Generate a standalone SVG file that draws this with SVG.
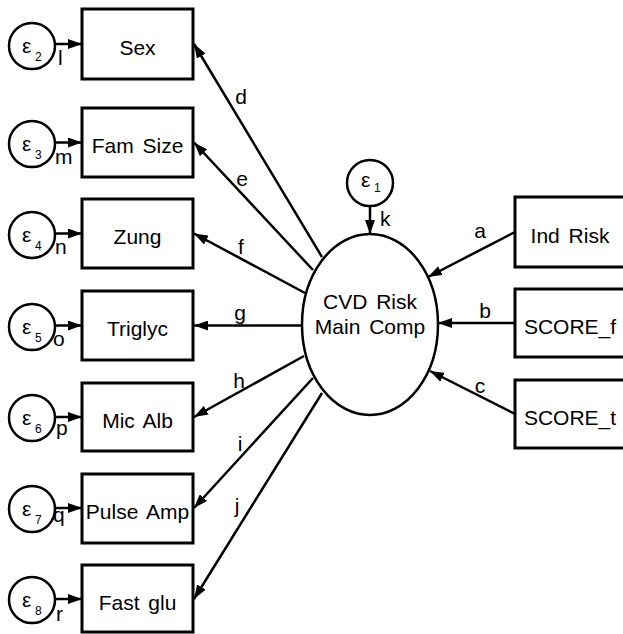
<svg xmlns="http://www.w3.org/2000/svg" width="623" height="634" viewBox="0 0 623 634">
<defs>
<marker id="ah" markerUnits="userSpaceOnUse" markerWidth="14" markerHeight="10" refX="14" refY="5" orient="auto">
<path d="M0,0 L14,5 L0,10 z" fill="#000"/>
</marker>
<style>
.box{fill:#fff;stroke:#000;stroke-width:3}
.circ{fill:#fff;stroke:#000;stroke-width:2.5}
.edge{stroke:#000;stroke-width:2.5;fill:none;marker-end:url(#ah)}
.t{font-family:"Liberation Sans",Arial,sans-serif;font-size:21px;fill:#000;word-spacing:3px}
.c{text-anchor:middle}
.lab{font-family:"Liberation Sans",Arial,sans-serif;font-size:21px;fill:#000}
.eps{font-family:"Liberation Sans",Arial,sans-serif;font-size:21px;fill:#000}
.sub{font-family:"Liberation Sans",Arial,sans-serif;font-size:12px;fill:#000}
</style>
</defs>
<rect width="623" height="634" fill="#fff"/>
<g id="connectors">
<line class="edge" x1="370" y1="206" x2="370" y2="234"/>
<line class="edge" x1="55" y1="44" x2="82" y2="44"/>
<line class="edge" x1="55" y1="142.5" x2="82" y2="142.5"/>
<line class="edge" x1="55" y1="233.5" x2="82" y2="233.5"/>
<line class="edge" x1="55" y1="325.5" x2="82" y2="325.5"/>
<line class="edge" x1="55" y1="417" x2="82" y2="417"/>
<line class="edge" x1="55" y1="508" x2="82" y2="508"/>
<line class="edge" x1="55" y1="599" x2="82" y2="599"/>
<line class="edge" x1="322" y1="257" x2="194" y2="44"/>
<line class="edge" x1="313" y1="270" x2="194" y2="142.5"/>
<line class="edge" x1="305" y1="293" x2="194" y2="233.5"/>
<line class="edge" x1="301" y1="325.5" x2="194" y2="325.5"/>
<line class="edge" x1="304" y1="356" x2="194" y2="417"/>
<line class="edge" x1="313" y1="378" x2="194" y2="508"/>
<line class="edge" x1="322" y1="393" x2="194" y2="599"/>
<line class="edge" x1="515" y1="232" x2="428" y2="277"/>
<line class="edge" x1="515" y1="323" x2="438" y2="323"/>
<line class="edge" x1="515" y1="414" x2="430" y2="371"/>
<text class="lab c" x="241" y="104">d</text>
<text class="lab c" x="242" y="186">e</text>
<text class="lab c" x="241" y="254">f</text>
<text class="lab c" x="240" y="320">g</text>
<text class="lab c" x="239" y="388">h</text>
<text class="lab c" x="240" y="451">i</text>
<text class="lab c" x="237" y="513">j</text>
<text class="lab c" x="480" y="238">a</text>
<text class="lab c" x="485" y="318">b</text>
<text class="lab c" x="480" y="393">c</text>
<text class="lab" x="380" y="226">k</text>
<text class="lab" x="58" y="65">l</text>
<text class="lab" x="55" y="164">m</text>
<text class="lab" x="55" y="254">n</text>
<text class="lab" x="53" y="346">o</text>
<text class="lab" x="56" y="435">p</text>
<text class="lab" x="53" y="522">q</text>
<text class="lab" x="56" y="621">r</text>
</g>
<g id="latent">
<ellipse class="circ" cx="370" cy="324.5" rx="68" ry="90.5"/>
<text class="t c" x="370" y="309">CVD Risk</text>
<text class="t c" x="370" y="334">Main Comp</text>
</g>
<g id="e1">
<circle class="circ" cx="370" cy="183" r="23"/>
<text class="eps" x="361" y="187">ε</text><text class="sub" x="374" y="192">1</text>
</g>
<g id="sex">
<rect class="box" x="82" y="9" width="111" height="70"/>
<text class="t c" x="137.5" y="55">Sex</text>
</g>
<g id="famsize">
<rect class="box" x="82" y="108" width="111" height="69"/>
<text class="t c" x="137.5" y="153">Fam Size</text>
</g>
<g id="zung">
<rect class="box" x="82" y="199" width="111" height="69"/>
<text class="t c" x="137.5" y="244">Zung</text>
</g>
<g id="triglyc">
<rect class="box" x="82" y="291" width="111" height="69"/>
<text class="t c" x="137.5" y="336">Triglyc</text>
</g>
<g id="micalb">
<rect class="box" x="82" y="383" width="111" height="68"/>
<text class="t c" x="137.5" y="428">Mic Alb</text>
</g>
<g id="pulseamp">
<rect class="box" x="82" y="474" width="111" height="69"/>
<text class="t c" x="137.5" y="519">Pulse Amp</text>
</g>
<g id="fastglu">
<rect class="box" x="82" y="565" width="111" height="67"/>
<text class="t c" x="137.5" y="610">Fast glu</text>
</g>
<g id="e2"><circle class="circ" cx="32" cy="46" r="23"/><text class="eps" x="22" y="53">ε</text><text class="sub" x="35" y="61">2</text></g>
<g id="e3"><circle class="circ" cx="32" cy="144" r="23"/><text class="eps" x="22" y="151">ε</text><text class="sub" x="35" y="159">3</text></g>
<g id="e4"><circle class="circ" cx="32" cy="235" r="23"/><text class="eps" x="22" y="242">ε</text><text class="sub" x="35" y="250">4</text></g>
<g id="e5"><circle class="circ" cx="32" cy="327" r="23"/><text class="eps" x="22" y="334">ε</text><text class="sub" x="35" y="342">5</text></g>
<g id="e6"><circle class="circ" cx="32" cy="418" r="23"/><text class="eps" x="22" y="425">ε</text><text class="sub" x="35" y="433">6</text></g>
<g id="e7"><circle class="circ" cx="32" cy="509" r="23"/><text class="eps" x="22" y="516">ε</text><text class="sub" x="35" y="524">7</text></g>
<g id="e8"><circle class="circ" cx="32" cy="600" r="23"/><text class="eps" x="22" y="607">ε</text><text class="sub" x="35" y="615">8</text></g>
<g id="indrisk">
<rect class="box" x="515" y="197" width="112" height="70"/>
<text class="t c" x="570" y="243">Ind Risk</text>
</g>
<g id="score_f">
<rect class="box" x="515" y="289" width="112" height="68"/>
<text class="t c" x="570" y="334">SCORE_f</text>
</g>
<g id="score_t">
<rect class="box" x="515" y="380" width="112" height="68"/>
<text class="t c" x="570" y="425">SCORE_t</text>
</g>
</svg>
